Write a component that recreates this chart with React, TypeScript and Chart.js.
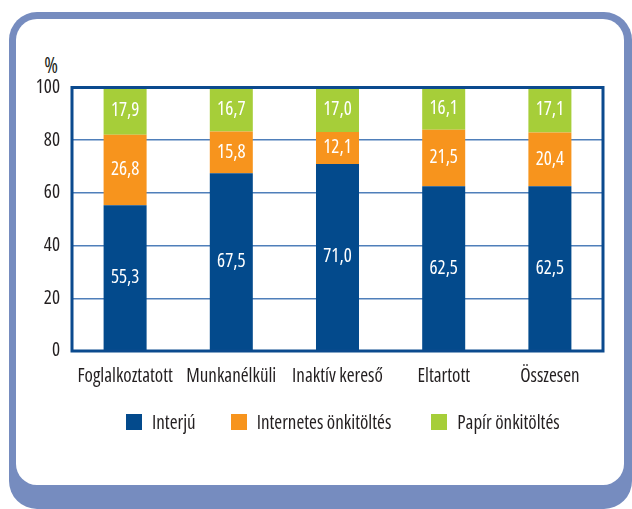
import React, { useEffect, useRef } from "react";
import { Chart, registerables } from "chart.js";

Chart.register(...registerables);

const categories = ["Foglalkoztatott", "Munkanélküli", "Inaktív kereső", "Eltartott", "Összesen"];
const interju = [55.3, 67.5, 71.0, 62.5, 62.5];
const internetes = [26.8, 15.8, 12.1, 21.5, 20.4];
const papir = [17.9, 16.7, 17.0, 16.1, 17.1];
const seriesNames = ["Interjú", "Internetes önkitöltés", "Papír önkitöltés"];
const seriesColors = ["#034a8c", "#f7941d", "#a6ce39"];
const yMin = 0;
const yMax = 100;
const yStep = 20;
const unitLabel = "%";

const FONT = "'Open Sans', 'DejaVu Sans Condensed', sans-serif";
const STRETCH = "condensed";
const WEIGHT = 500;
const TEXT = "#231f20";

const fmt = (v: number) => v.toFixed(1).replace(".", ",");

const frameAndLabels = {
  id: "frameAndLabels",
  afterDatasetsDraw(chart: any) {
    const { ctx, chartArea } = chart;
    ctx.save();
    ctx.strokeStyle = "#0b4a8e";
    ctx.lineWidth = 3;
    ctx.strokeRect(chartArea.left, chartArea.top, chartArea.right - chartArea.left, chartArea.bottom - chartArea.top);
    ctx.fillStyle = "#ffffff";
    ctx.font = `${WEIGHT} ${STRETCH} 19px ${FONT}`;
    ctx.textAlign = "center";
    ctx.textBaseline = "middle";
    chart.data.datasets.forEach((ds: any, di: number) => {
      const meta = chart.getDatasetMeta(di);
      meta.data.forEach((bar: any, i: number) => {
        const y = (bar.y + bar.base) / 2;
        ctx.fillText(fmt(ds.data[i]), bar.x, y);
      });
    });
    ctx.restore();
  },
};

function ChartCanvas() {
  const ref = useRef<HTMLCanvasElement | null>(null);
  useEffect(() => {
    if (!ref.current) return;
    const tickFont = { family: FONT, size: 19, weight: `${WEIGHT} ${STRETCH}` as any };
    const chart = new Chart(ref.current, {
      type: "bar",
      data: {
        labels: categories,
        datasets: [
          { label: seriesNames[0], data: interju, backgroundColor: seriesColors[0] },
          { label: seriesNames[1], data: internetes, backgroundColor: seriesColors[1] },
          { label: seriesNames[2], data: papir, backgroundColor: seriesColors[2] },
        ],
      },
      options: {
        responsive: false,
        animation: false,
        devicePixelRatio: 1,
        datasets: { bar: { barPercentage: 0.405, categoryPercentage: 1 } },
        layout: { padding: { left: 0, top: 87.5, right: 29, bottom: 0 } },
        plugins: { legend: { display: false }, tooltip: { enabled: false } },
        scales: {
          x: {
            stacked: true,
            grid: { display: false, drawTicks: false },
            border: { display: false },
            ticks: { color: TEXT, font: tickFont, padding: 14, maxRotation: 0, autoSkip: false },
            afterFit: (s: any) => { s.height = 158; },
          },
          y: {
            stacked: true,
            min: yMin,
            max: yMax,
            grid: { color: "#4f7fba", lineWidth: 1.5, drawTicks: false },
            border: { display: false },
            ticks: { stepSize: yStep, color: TEXT, font: tickFont, padding: 12 },
            afterFit: (s: any) => { s.width = 72; },
          },
        },
      },
      plugins: [frameAndLabels],
    });
    return () => chart.destroy();
  }, []);
  return <canvas ref={ref} width={632} height={509} style={{ position: "absolute", left: 0, top: 0 }} />;
}

export default function App() {
  const textStyle = { fontFamily: FONT, fontSize: 19, fontWeight: WEIGHT, fontStretch: STRETCH, color: TEXT } as any;
  return (
    <div style={{ position: "fixed", left: 0, top: 0, width: 632, height: 509, overflow: "hidden", background: "#ffffff" }}>
      <div style={{ position: "absolute", left: 9, top: 12, width: 623, height: 497, borderRadius: 28, background: "#768cbf" }} />
      <div style={{ position: "absolute", left: 16, top: 19, width: 608, height: 466, borderRadius: 21, background: "#ffffff" }} />
      <div style={{ position: "absolute", left: 39, top: 51, width: 24, textAlign: "center", ...textStyle, fontSize: 21 }}>{unitLabel}</div>
      <ChartCanvas />
      <div style={{ position: "absolute", left: 126, top: 409, display: "flex", alignItems: "center", whiteSpace: "nowrap", ...textStyle }}>
        {seriesNames.map((n, i) => (
          <div key={n} style={{ display: "flex", alignItems: "center", marginRight: i === 0 ? 35 : 40 }}>
            <span style={{ display: "inline-block", width: 16, height: 16, background: seriesColors[i], marginRight: 10 }} />
            <span>{n}</span>
          </div>
        ))}
      </div>
    </div>
  );
}
